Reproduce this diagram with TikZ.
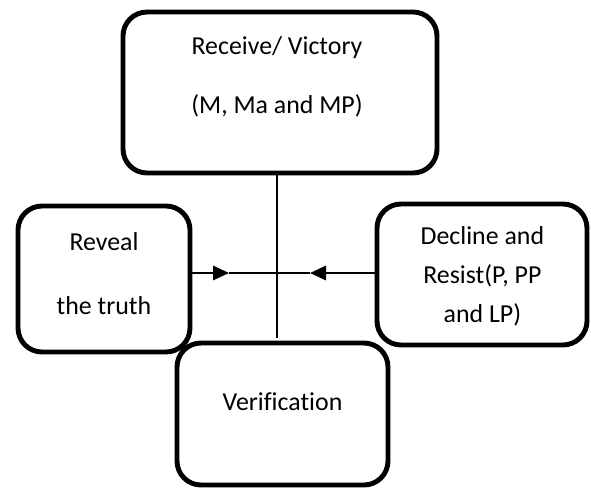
\documentclass[tikz,border=0pt]{standalone}
\usepackage{fontspec}
\setmainfont[Ligatures=NoCommon]{Carlito}
\usetikzlibrary{arrows.meta}

\begin{document}
\begin{tikzpicture}[->, >={Triangle[length=4mm,width=3.6mm]},
  box/.style={draw, line width=3.5pt, rounded corners=0.6cm, fill=white, inner sep=0pt},
  txt/.style={align=center, font=\fontsize{18.4}{27.8}\selectfont},
  link/.style={line width=1.4pt}]
\useasboundingbox (0,0) rectangle (14.775,12.225);
% Boxes
\node[box, minimum width=7.85cm, minimum height=4.025cm] (receive) at (7.0,9.9125) {};
\node[box, minimum width=4.3cm, minimum height=3.65cm] (reveal) at (2.6,5.25) {};
\node[box, minimum width=5.25cm, minimum height=3.525cm] (decline) at (12.05,5.3625) {};
\node[box, minimum width=5.275cm, minimum height=3.55cm] (verification) at (7.0625,1.875) {};

% Texts
\node[txt] (receiveText) at (6.925,10.3125) {Receive/ Victory\\[14pt](M, Ma and MP)};
\node[txt] (revealText) at (2.6,5.3875) {Reveal\\[17.6pt]the truth};
\node[txt] (declineText) at (12.06,5.3075) {Decline and\\Resist(P, PP\\and LP)};
\node[txt] (verificationText) at (7.0625,2.1875) {Verification};

% Cross
\coordinate (crossBottom) at (6.925,3.775);
\coordinate (tipL) at (5.725,5.4);
\coordinate (tipR) at (7.75,5.4);
\draw[link, -] (crossBottom |- receive.south) -- (crossBottom);
\draw[link] (reveal.east |- tipL) -- (tipL);
\draw[link, -] (tipL) -- (tipR);
\draw[link] (decline.west |- tipR) -- (tipR);
\end{tikzpicture}
\end{document}
